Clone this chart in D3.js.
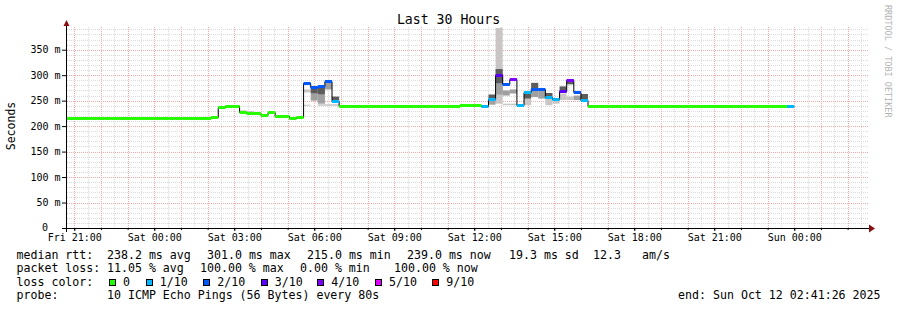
<!DOCTYPE html>
<html>
<head>
<meta charset="utf-8">
<script src="https://cdn.jsdelivr.net/npm/d3@7"></script>
<style>
  body { margin: 0; background: #fff; }
  svg { display: block; font-family: "DejaVu Sans Mono", monospace; }
  text { white-space: pre; }
</style>
</head>
<body>
<script>
// Time window
const startTime = new Date(2025, 9, 10, 20, 41, 26);
const endTime = new Date(2025, 9, 12, 2, 41, 26);
const binStart = new Date(2025, 9, 10, 20, 32, 0);
const binMinutes = 16;

// Median rtt per 16 min bin (ms)
const median = [
  216, 216, 216, 216, 216, 216, 216, 216, 216, 216,
  216, 216, 216, 216, 216, 216, 216, 216, 216, 216,
  216, 218, 237, 239, 239, 227, 225, 226, 221, 228,
  220, 220, 215, 218, 284, 276, 278, 288, 249, 240,
  240, 240, 240, 240, 240, 240, 240, 240, 240, 240,
  240, 240, 240, 240, 240, 240, 242, 242, 242, 240,
  254, 301, 282, 293, 242, 267, 272, 272, 258, 254,
  269, 291, 267, 251, 239, 239, 239, 239, 239, 239,
  239, 239, 239, 239, 239, 239, 239, 239, 239, 239,
  239, 239, 239, 239, 239, 239, 239, 239, 239, 239,
  239, 239, 239
];

// Lost pings (of 10) per bin
const loss = [
  0, 0, 0, 0, 0, 0, 0, 0, 0, 0,
  0, 0, 0, 0, 0, 0, 0, 0, 0, 0,
  0, 0, 0, 0, 0, 0, 0, 0, 0, 0,
  0, 0, 0, 0, 2, 2, 2, 2, 1, 0,
  0, 0, 0, 0, 0, 0, 0, 0, 0, 0,
  0, 0, 0, 0, 0, 0, 0, 0, 0, 1,
  1, 3, 2, 4, 1, 1, 2, 2, 1, 1,
  3, 4, 2, 1, 0, 0, 0, 0, 0, 0,
  0, 0, 0, 0, 0, 0, 0, 0, 0, 0,
  0, 0, 0, 0, 0, 0, 0, 0, 0, 0,
  0, 0, 1
];

// Smoke bands [bin, low ms, high ms]
const smokeLight = [[25, 227, 231], [26, 225, 230], [34, 240, 242], [34, 266, 272],
  [36, 240, 243], [37, 240, 243], [38, 240, 243], [61, 244, 392.6], [62, 241, 244],
  [63, 241, 244], [65, 241, 254], [68, 241, 258], [69, 244, 254], [70, 251, 264], [71, 251, 258]];
const smokeMid = [[35, 250, 264], [36, 244, 262], [37, 272, 287], [60, 242, 254],
  [61, 262, 284], [62, 260, 270], [63, 264, 272], [66, 257, 272], [67, 254, 272], [72, 251, 260]];
const smokeDark = [[35, 264, 274], [36, 262, 276], [38, 250, 258], [60, 254, 262],
  [61, 284, 312], [65, 254, 267], [66, 272, 285], [68, 258, 265], [70, 269, 278],
  [71, 282, 291], [73, 251, 263]];

// Loss colours / legend
const lossLevels = [0, 1, 2, 3, 4, 5, 9];
const lossLabels = ["0", "1/10", "2/10", "3/10", "4/10", "5/10", "9/10"];
const lossColors = ["#26ff00", "#00b8ff", "#0059ff", "#5e00ff", "#7e00ff", "#dd00ff", "#ff0000"];

// Ticks
const yTickValues = [0, 50, 100, 150, 200, 250, 300, 350];
const yTickLabels = ["0", "50 m", "100 m", "150 m", "200 m", "250 m", "300 m", "350 m"];
const xTickTimes = [
  new Date(2025, 9, 10, 21), new Date(2025, 9, 11, 0), new Date(2025, 9, 11, 3),
  new Date(2025, 9, 11, 6), new Date(2025, 9, 11, 9), new Date(2025, 9, 11, 12),
  new Date(2025, 9, 11, 15), new Date(2025, 9, 11, 18), new Date(2025, 9, 11, 21),
  new Date(2025, 9, 12, 0)
];
const xTickLabels = ["Fri 21:00", "Sat 00:00", "Sat 03:00", "Sat 06:00", "Sat 09:00",
  "Sat 12:00", "Sat 15:00", "Sat 18:00", "Sat 21:00", "Sun 00:00"];

// Legend texts
const statsRtt = ["median rtt:", "238.2 ms avg", "301.0 ms max", "215.0 ms min", "239.0 ms now", "19.3 ms sd", "12.3", "am/s"];
const statsLoss = ["packet loss:", "11.05 % avg", "100.00 % max", "0.00 % min", "100.00 % now"];
const probeText = ["probe:", "10 ICMP Echo Pings (56 Bytes) every 80s"];
const endText = "end: Sun Oct 12 02:41:26 2025";

// Dimensions
const width = 897;
const height = 310;
const plot = { left: 66, right: 866, top: 28, bottom: 228 };

const svg = d3.select("body").append("svg")
  .attr("width", width)
  .attr("height", height);

const x = d3.scaleTime().domain([startTime, endTime]).range([plot.left, plot.right]);
const y = d3.scaleLinear().domain([0, 392.6]).range([plot.bottom, plot.top]);
const crisp = v => Math.round(v) + 0.5;

// Grid
const grid = svg.append("g").attr("stroke-dasharray", "1,1").attr("stroke-width", 1);
const minorY = d3.range(10, 392, 10).filter(v => v % 50 !== 0);
grid.selectAll(".gy").data(minorY).enter().append("line")
  .attr("x1", plot.left + 1).attr("x2", plot.right + 2)
  .attr("y1", d => crisp(y(d))).attr("y2", d => crisp(y(d)))
  .attr("stroke", "#dadada");
const minorX = d3.timeMinute.every(30).range(startTime, endTime).filter(d => d.getMinutes() !== 0);
grid.selectAll(".gx").data(minorX).enter().append("line")
  .attr("x1", d => crisp(x(d))).attr("x2", d => crisp(x(d)))
  .attr("y1", plot.top - 1).attr("y2", plot.bottom)
  .attr("stroke", "#dadada");
grid.selectAll(".my").data(yTickValues.slice(1)).enter().append("line")
  .attr("x1", plot.left + 1).attr("x2", plot.right + 2)
  .attr("y1", d => crisp(y(d))).attr("y2", d => crisp(y(d)))
  .attr("stroke", "#f5aaaa");
grid.selectAll(".mx").data(d3.timeHour.range(startTime, endTime)).enter().append("line")
  .attr("x1", d => crisp(x(d))).attr("x2", d => crisp(x(d)))
  .attr("y1", plot.top - 1).attr("y2", plot.bottom)
  .attr("stroke", "#f5aaaa");

// Bins
const binT = i => d3.timeMinute.offset(binStart, i * binMinutes);
const bx0 = i => Math.max(plot.left, x(binT(i)));
const bx1 = i => Math.min(plot.right, x(binT(i + 1)));

// Smoke
function drawSmoke(list, color) {
  svg.append("g").selectAll("rect").data(list).enter().append("rect")
    .attr("x", d => bx0(d[0]))
    .attr("width", d => bx1(d[0]) - bx0(d[0]))
    .attr("y", d => y(d[2]))
    .attr("height", d => y(d[1]) - y(d[2]))
    .attr("fill", color);
}
drawSmoke(smokeLight, "#cbc6c6");
drawSmoke(smokeMid, "#a0a0a0");
drawSmoke(smokeDark, "#5c5c5c");

// Median black step line
const pts = median.map((v, i) => [bx0(i), v]);
pts.push([bx1(median.length - 1), median[median.length - 1]]);
svg.append("path")
  .attr("d", d3.line().x(d => d[0]).y(d => crisp(y(d[1]))).curve(d3.curveStepAfter)(pts))
  .attr("fill", "none")
  .attr("stroke", "#000")
  .attr("stroke-width", 1);

// Median coloured by loss
svg.append("g").selectAll("rect").data(median).enter().append("rect")
  .attr("x", (d, i) => bx0(i))
  .attr("width", (d, i) => bx1(i) - bx0(i))
  .attr("y", d => Math.round(y(d)) - 1)
  .attr("height", 3)
  .attr("fill", (d, i) => lossColors[lossLevels.indexOf(loss[i])]);

// Axes
const yAxis = d3.axisLeft(y)
  .tickValues(yTickValues)
  .tickFormat((d, i) => yTickLabels[i])
  .tickSize(4)
  .tickPadding(1.5);
const yg = svg.append("g").attr("transform", `translate(${plot.left},0)`).call(yAxis);
yg.select(".domain").remove();
yg.selectAll("text").attr("font-size", 10).attr("font-family", "DejaVu Sans Mono").attr("fill", "#000")
  .filter(d => d === 0).attr("x", -18).attr("dy", "0.25em");
yg.selectAll("line").attr("stroke", "#000");

const xMinor = d3.axisBottom(x).tickValues(d3.timeHour.range(startTime, endTime)).tickSize(2).tickFormat("");
const xmg = svg.append("g").attr("transform", `translate(0,${plot.bottom})`).call(xMinor);
xmg.select(".domain").remove();
xmg.selectAll("line").attr("stroke", "#000");

const xAxis = d3.axisBottom(x)
  .tickValues(xTickTimes)
  .tickFormat((d, i) => xTickLabels[i])
  .tickSize(3)
  .tickPadding(2.8);
const xg = svg.append("g").attr("transform", `translate(0,${plot.bottom})`).call(xAxis);
xg.select(".domain").remove();
xg.selectAll("text").attr("font-size", 10).attr("font-family", "DejaVu Sans Mono").attr("fill", "#000");
xg.selectAll("line").attr("stroke", "#000");

// Axis lines with arrows
svg.append("line")
  .attr("x1", plot.left - 4).attr("x2", plot.right + 4)
  .attr("y1", plot.bottom + 0.5).attr("y2", plot.bottom + 0.5)
  .attr("stroke", "#000");
svg.append("line")
  .attr("x1", plot.left + 0.5).attr("x2", plot.left + 0.5)
  .attr("y1", plot.bottom + 4).attr("y2", plot.top - 4)
  .attr("stroke", "#000");
svg.append("path")
  .attr("d", `M${plot.right + 3},${plot.bottom - 3.5}L${plot.right + 9},${plot.bottom + 0.5}L${plot.right + 3},${plot.bottom + 4.5}Z`)
  .attr("fill", "#8a1010");
svg.append("path")
  .attr("d", `M${plot.left - 2.5},${plot.top - 2}L${plot.left + 0.5},${plot.top - 8}L${plot.left + 3.5},${plot.top - 2}Z`)
  .attr("fill", "#8a1010");

// Title and labels
svg.append("text")
  .attr("x", width / 2)
  .attr("y", 24)
  .attr("text-anchor", "middle")
  .attr("font-size", 13.2)
  .text("Last 30 Hours");

svg.append("text")
  .attr("transform", "translate(14.5,126) rotate(-90)")
  .attr("text-anchor", "middle")
  .attr("font-size", 11.5)
  .text("Seconds");

svg.append("text")
  .attr("transform", "translate(885,5) rotate(90)")
  .attr("font-size", 8.5)
  .attr("fill", "#b4b4b4")
  .text("RRDTOOL / TOBI OETIKER");

// Legend
const legend = svg.append("g").attr("font-size", 11.6).attr("fill", "#000");
const rttX = [16.5, 107, 207, 307, 407, 509, 593, 642];
statsRtt.forEach((s, i) => legend.append("text").attr("x", rttX[i]).attr("y", 259).text(s));
const lossX = [16.5, 107, 200, 300, 394];
statsLoss.forEach((s, i) => legend.append("text").attr("x", lossX[i]).attr("y", 272.3).text(s));

legend.append("text").attr("x", 16.5).attr("y", 285.7).text("loss color:");
const swatchX = [109, 145.7, 203.3, 260.7, 317.3, 375, 432.3];
lossLabels.forEach((s, i) => {
  legend.append("rect")
    .attr("x", Math.round(swatchX[i]) + 0.5).attr("y", 279.5)
    .attr("width", 6).attr("height", 6)
    .attr("fill", lossColors[i]).attr("stroke", "#000");
  legend.append("text").attr("x", swatchX[i] + 14).attr("y", 285.7).text(s);
});

legend.append("text").attr("x", 16.5).attr("y", 299).text(probeText[0]);
legend.append("text").attr("x", 107).attr("y", 299).text(probeText[1]);
legend.append("text").attr("x", 880.5).attr("y", 299).attr("text-anchor", "end").text(endText);
</script>
</body>
</html>
